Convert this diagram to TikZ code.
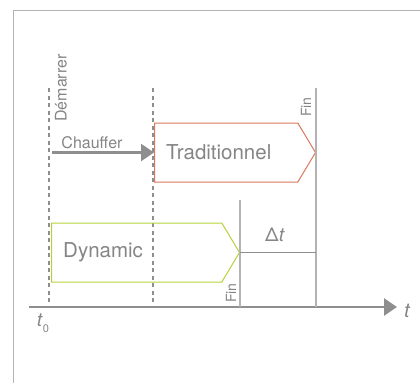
\documentclass[tikz,border=0pt]{standalone}
\usepackage{fontspec}
\setmainfont{TeX Gyre Heros}
\usetikzlibrary{arrows.meta,shapes.symbols,positioning,calc}
\definecolor{txtgray}{HTML}{858585}
\definecolor{axisgray}{HTML}{8E8E8E}
\definecolor{linegray}{HTML}{B3B3B3}
\definecolor{tradred}{HTML}{D9785A}
\definecolor{dyngreen}{HTML}{B4D23C}
\tikzstyle{timeline} = [axisgray, line width=2.6pt, -{Triangle[length=13pt,width=17pt]}]
\tikzstyle{startline} = [axisgray, line width=2.1pt, dash pattern=on 4pt off 3.5pt]
\tikzstyle{finline} = [linegray, line width=1.2pt]
\tikzstyle{procbox} = [signal, signal to=east, signal pointer angle=118, line width=1pt, minimum height=59pt, anchor=west, inner sep=0pt]
\tikzstyle{boxtext} = [txtgray, font=\fontsize{20.5}{24}\selectfont, anchor=west, inner sep=0pt]
\tikzstyle{vlabel} = [txtgray, rotate=90, inner sep=0pt]

\begin{document}
\begin{tikzpicture}[x=1pt,y=-1pt]
\useasboundingbox (0,0) rectangle (420,383);
\draw[linegray, line width=1pt] (13,383) -- (13,10) -- (420,10);

% time axis
\coordinate (ax0) at (29,307);
\coordinate (ax1) at (397,307);
\draw[timeline] (ax0) -- (ax1);
\node[txtgray, font=\itshape\fontsize{20}{24}\selectfont] (tlab) at (407,311) {t};
\node[txtgray, font=\fontsize{19}{22}\selectfont] (t0) at (43,323) {\textit{t}\raisebox{-0.55ex}{\fontsize{11}{13}\selectfont 0}};

% start lines
\coordinate (s1top) at (49,88);
\coordinate (s2top) at (153,88);
\draw[startline] (s1top) -- (s1top |- ax0);
\draw[startline] (s2top) -- (s2top |- ax0);
\node[vlabel, font=\fontsize{16}{18}\selectfont] (start) at (61,88) {Démarrer};

% boxes
\node[procbox, draw=tradred, minimum width=161pt] (trad) at (154,152.5) {};
\node[boxtext, right=12pt of trad.west] (tradtxt) {Traditionnel};
\node[procbox, draw=dyngreen, minimum width=188pt] (dyn) at (51,252.5) {};
\node[boxtext, right=12pt of dyn.west] (dyntxt) {Dynamic};

% heating
\draw[timeline] ($(s1top |- trad.west)+(3,0)$) -- (trad.west);
\node[txtgray, font=\fontsize{16}{18}\selectfont] (heat) at (92,143) {Chauffer};

% end lines
\draw[finline] (trad.east |- s1top) -- (trad.east |- ax0);
\draw[finline] (dyn.east |- 0,200) -- (dyn.east |- ax0);
\node[vlabel, font=\fontsize{14}{16}\selectfont] (fin1) at (306,107) {Fin};
\node[vlabel, font=\fontsize{14}{16}\selectfont] (fin2) at (231,293) {Fin};

% gap
\draw[finline, line width=1pt, axisgray] (dyn.east) -- (dyn.east -| trad.east);
\node[txtgray, font=\fontsize{19}{22}\selectfont] (gap) at (275,235) {Δ\textit{t}};
\end{tikzpicture}
\end{document}
